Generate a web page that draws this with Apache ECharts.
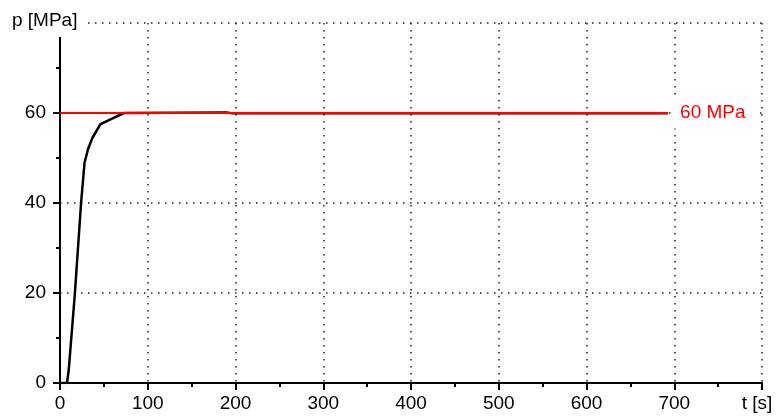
<!DOCTYPE html>
<html>
<head>
<meta charset="utf-8">
<script src="https://cdn.jsdelivr.net/npm/echarts@6/dist/echarts.min.js"></script>
<style>html,body{margin:0;padding:0;background:#fff}#c{width:777px;height:419px}</style>
</head>
<body>
<div id="c"></div>
<script>
// Pressure curve p [MPa] vs time t [s]
var curveT = [0, 8, 10, 17, 24, 28, 32, 37, 46, 60, 73, 190, 195, 693];
var curveP = [0, 0, 3, 20, 40, 49, 52, 54.5, 57.5, 58.8, 60, 60.12, 59.97, 59.97];
// Reference level line
var refT = [0, 693];
var refP = [60, 60];
var refLabel = '60 MPa';
// Axis ticks
var xTicks = [0, 100, 200, 300, 400, 500, 600, 700, 800];
var yTicks = [0, 20, 40, 60, 80];
var xTitle = 't [s]';
var yTitle = 'p [MPa]';

var FONT = 'Liberation Sans, Arial, sans-serif';
var chart = echarts.init(document.getElementById('c'), null, {renderer: 'canvas'});

function pairs(a, b) { return a.map(function (v, i) { return [v, b[i]]; }); }

var option = {
  animation: false,
  backgroundColor: '#fff',
  grid: {left: 60, right: 15, top: 23, bottom: 36},
  xAxis: {
    type: 'value',
    min: xTicks[0], max: xTicks[xTicks.length - 1], interval: 100,
    axisLine: {show: true, onZero: false, lineStyle: {color: '#000', width: 2}},
    axisTick: {show: true, inside: false, length: 7, lineStyle: {color: '#000', width: 2}},
    minorTick: {show: true, splitNumber: 2, length: 4, lineStyle: {color: '#000', width: 2}},
    axisLabel: {
      color: '#000', fontSize: 19, fontFamily: FONT, margin: 11,
      formatter: function (v) { return v === xTicks[xTicks.length - 1] ? '{t|' + xTitle + '}' : String(v); },
      rich: {t: {fontSize: 19, fontFamily: FONT, color: '#000', padding: [0, 10, 0, 0]}}
    },
    splitLine: {show: true, lineStyle: {color: '#222', width: 1.5, type: [1.5, 5.5]}}
  },
  yAxis: {
    type: 'value',
    min: yTicks[0], max: yTicks[yTicks.length - 1], interval: 20,
    axisLine: {show: true, onZero: false, lineStyle: {color: '#000', width: 2}},
    axisTick: {show: true, inside: false, length: 7, lineStyle: {color: '#000', width: 2}},
    minorTick: {show: true, splitNumber: 2, length: 4, lineStyle: {color: '#000', width: 2}},
    axisLabel: {
      color: '#000', fontSize: 19, fontFamily: FONT, margin: 14,
      formatter: function (v) { return v === yTicks[yTicks.length - 1] ? '' : String(v); }
    },
    splitLine: {show: true, lineStyle: {color: '#222', width: 1.5, type: [1.5, 5.5]}}
  },
  series: [
    {
      type: 'line', data: pairs(curveT, curveP), showSymbol: false, symbol: 'none',
      lineStyle: {color: '#000', width: 2.5}, z: 3
    },
    {
      type: 'line', data: pairs(refT, refP), showSymbol: false, symbol: 'none',
      lineStyle: {color: '#ff0000', width: 1.8}, z: 4,
      endLabel: {
        show: true, formatter: refLabel, color: '#ff0000', fontSize: 19, fontFamily: FONT,
        distance: 4, backgroundColor: '#fff', padding: [6, 12, 6, 8]
      }
    }
  ],
  graphic: [
    {
      type: 'rect', left: 0, top: 6, z: 100,
      shape: {width: 88, height: 31},
      style: {fill: '#fff'}
    },
    {
      type: 'text', left: 12, top: 11, z: 101,
      style: {text: yTitle, fill: '#000', font: '19px ' + FONT}
    }
  ]
};
chart.setOption(option);
</script>
</body>
</html>
